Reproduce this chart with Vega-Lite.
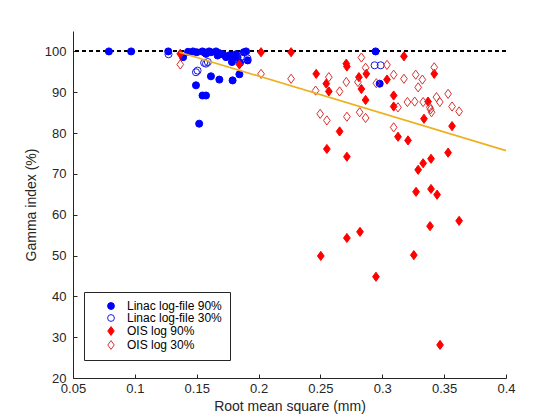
{
  "$schema": "https://vega.github.io/schema/vega-lite/v6.json",
  "autosize": {"type": "none"},
  "padding": {"left": 73, "top": 31, "right": 54, "bottom": 42},
  "width": 433,
  "height": 347,
  "background": "white",
  "datasets": {
    "fit": [
      {"rms": 0.136, "gamma": 99.8},
      {"rms": 0.4, "gamma": 75.7}
    ]
  },
  "data": {
    "values": [
      {"series": "Linac log-file 90%", "rms": 0.079, "gamma": 100},
      {"series": "Linac log-file 90%", "rms": 0.097, "gamma": 100},
      {"series": "Linac log-file 90%", "rms": 0.127, "gamma": 100},
      {"series": "Linac log-file 90%", "rms": 0.139, "gamma": 98.6},
      {"series": "Linac log-file 90%", "rms": 0.143, "gamma": 99.9},
      {"series": "Linac log-file 90%", "rms": 0.147, "gamma": 100},
      {"series": "Linac log-file 90%", "rms": 0.150, "gamma": 99.8},
      {"series": "Linac log-file 90%", "rms": 0.1545, "gamma": 100},
      {"series": "Linac log-file 90%", "rms": 0.156, "gamma": 99.8},
      {"series": "Linac log-file 90%", "rms": 0.1575, "gamma": 99.4},
      {"series": "Linac log-file 90%", "rms": 0.160, "gamma": 100},
      {"series": "Linac log-file 90%", "rms": 0.1615, "gamma": 99.8},
      {"series": "Linac log-file 90%", "rms": 0.1656, "gamma": 100},
      {"series": "Linac log-file 90%", "rms": 0.1669, "gamma": 99.0},
      {"series": "Linac log-file 90%", "rms": 0.168, "gamma": 99.6},
      {"series": "Linac log-file 90%", "rms": 0.171, "gamma": 99.3},
      {"series": "Linac log-file 90%", "rms": 0.1737, "gamma": 98.6},
      {"series": "Linac log-file 90%", "rms": 0.176, "gamma": 99.0},
      {"series": "Linac log-file 90%", "rms": 0.179, "gamma": 99.0},
      {"series": "Linac log-file 90%", "rms": 0.1785, "gamma": 97.4},
      {"series": "Linac log-file 90%", "rms": 0.1818, "gamma": 99.3},
      {"series": "Linac log-file 90%", "rms": 0.183, "gamma": 98.5},
      {"series": "Linac log-file 90%", "rms": 0.188, "gamma": 99.8},
      {"series": "Linac log-file 90%", "rms": 0.1899, "gamma": 100},
      {"series": "Linac log-file 90%", "rms": 0.1912, "gamma": 97.8},
      {"series": "Linac log-file 90%", "rms": 0.185, "gamma": 97.2},
      {"series": "Linac log-file 90%", "rms": 0.1845, "gamma": 94.4},
      {"series": "Linac log-file 90%", "rms": 0.179, "gamma": 92.9},
      {"series": "Linac log-file 90%", "rms": 0.1683, "gamma": 93.1},
      {"series": "Linac log-file 90%", "rms": 0.1615, "gamma": 93.9},
      {"series": "Linac log-file 90%", "rms": 0.1494, "gamma": 91.7},
      {"series": "Linac log-file 90%", "rms": 0.1547, "gamma": 89.2},
      {"series": "Linac log-file 90%", "rms": 0.1575, "gamma": 89.2},
      {"series": "Linac log-file 90%", "rms": 0.152, "gamma": 82.3},
      {"series": "Linac log-file 90%", "rms": 0.2946, "gamma": 100},
      {"series": "Linac log-file 90%", "rms": 0.2979, "gamma": 92.1},
      {"series": "Linac log-file 30%", "rms": 0.1272, "gamma": 99.3},
      {"series": "Linac log-file 30%", "rms": 0.1507, "gamma": 95.3},
      {"series": "Linac log-file 30%", "rms": 0.1494, "gamma": 94.9},
      {"series": "Linac log-file 30%", "rms": 0.156, "gamma": 97.2},
      {"series": "Linac log-file 30%", "rms": 0.1575, "gamma": 97.0},
      {"series": "Linac log-file 30%", "rms": 0.159, "gamma": 97.4},
      {"series": "Linac log-file 30%", "rms": 0.191, "gamma": 98.3},
      {"series": "Linac log-file 30%", "rms": 0.187, "gamma": 98.8},
      {"series": "Linac log-file 30%", "rms": 0.2938, "gamma": 96.6},
      {"series": "Linac log-file 30%", "rms": 0.2987, "gamma": 96.6},
      {"series": "OIS log 90%", "rms": 0.1367, "gamma": 99.4},
      {"series": "OIS log 90%", "rms": 0.1845, "gamma": 96.8},
      {"series": "OIS log 90%", "rms": 0.202, "gamma": 99.8},
      {"series": "OIS log 90%", "rms": 0.2263, "gamma": 99.8},
      {"series": "OIS log 90%", "rms": 0.2466, "gamma": 94.5},
      {"series": "OIS log 90%", "rms": 0.2547, "gamma": 92.1},
      {"series": "OIS log 90%", "rms": 0.2568, "gamma": 90.2},
      {"series": "OIS log 90%", "rms": 0.2709, "gamma": 97.0},
      {"series": "OIS log 90%", "rms": 0.2714, "gamma": 96.3},
      {"series": "OIS log 90%", "rms": 0.2811, "gamma": 93.7},
      {"series": "OIS log 90%", "rms": 0.2871, "gamma": 94.5},
      {"series": "OIS log 90%", "rms": 0.2831, "gamma": 90.8},
      {"series": "OIS log 90%", "rms": 0.2865, "gamma": 88.1},
      {"series": "OIS log 90%", "rms": 0.2655, "gamma": 80.4},
      {"series": "OIS log 90%", "rms": 0.2552, "gamma": 76.1},
      {"series": "OIS log 90%", "rms": 0.2714, "gamma": 74.2},
      {"series": "OIS log 90%", "rms": 0.3175, "gamma": 98.8},
      {"series": "OIS log 90%", "rms": 0.342, "gamma": 94.5},
      {"series": "OIS log 90%", "rms": 0.3038, "gamma": 93.1},
      {"series": "OIS log 90%", "rms": 0.3092, "gamma": 89.2},
      {"series": "OIS log 90%", "rms": 0.3092, "gamma": 86.5},
      {"series": "OIS log 90%", "rms": 0.337, "gamma": 87.7},
      {"series": "OIS log 90%", "rms": 0.3337, "gamma": 83.5},
      {"series": "OIS log 90%", "rms": 0.3564, "gamma": 81.7},
      {"series": "OIS log 90%", "rms": 0.3127, "gamma": 79.1},
      {"series": "OIS log 90%", "rms": 0.3208, "gamma": 78.2},
      {"series": "OIS log 90%", "rms": 0.3532, "gamma": 75.2},
      {"series": "OIS log 90%", "rms": 0.3394, "gamma": 73.7},
      {"series": "OIS log 90%", "rms": 0.333, "gamma": 72.6},
      {"series": "OIS log 90%", "rms": 0.329, "gamma": 71.0},
      {"series": "OIS log 90%", "rms": 0.3273, "gamma": 65.6},
      {"series": "OIS log 90%", "rms": 0.3394, "gamma": 66.3},
      {"series": "OIS log 90%", "rms": 0.3443, "gamma": 64.9},
      {"series": "OIS log 90%", "rms": 0.3621, "gamma": 58.5},
      {"series": "OIS log 90%", "rms": 0.3386, "gamma": 57.2},
      {"series": "OIS log 90%", "rms": 0.282, "gamma": 55.8},
      {"series": "OIS log 90%", "rms": 0.2714, "gamma": 54.3},
      {"series": "OIS log 90%", "rms": 0.2503, "gamma": 49.9},
      {"series": "OIS log 90%", "rms": 0.3255, "gamma": 50.1},
      {"series": "OIS log 90%", "rms": 0.2949, "gamma": 44.8},
      {"series": "OIS log 90%", "rms": 0.3467, "gamma": 28.1},
      {"series": "OIS log 30%", "rms": 0.1367, "gamma": 96.8},
      {"series": "OIS log 30%", "rms": 0.202, "gamma": 94.5},
      {"series": "OIS log 30%", "rms": 0.2263, "gamma": 93.3},
      {"series": "OIS log 30%", "rms": 0.2568, "gamma": 93.7},
      {"series": "OIS log 30%", "rms": 0.2709, "gamma": 92.5},
      {"series": "OIS log 30%", "rms": 0.2655, "gamma": 90.2},
      {"series": "OIS log 30%", "rms": 0.2461, "gamma": 90.4},
      {"series": "OIS log 30%", "rms": 0.2831, "gamma": 98.5},
      {"series": "OIS log 30%", "rms": 0.2865, "gamma": 96.0},
      {"series": "OIS log 30%", "rms": 0.2803, "gamma": 92.5},
      {"series": "OIS log 30%", "rms": 0.2498, "gamma": 84.7},
      {"series": "OIS log 30%", "rms": 0.2552, "gamma": 83.1},
      {"series": "OIS log 30%", "rms": 0.2714, "gamma": 84.0},
      {"series": "OIS log 30%", "rms": 0.2817, "gamma": 85.1},
      {"series": "OIS log 30%", "rms": 0.2865, "gamma": 83.7},
      {"series": "OIS log 30%", "rms": 0.3038, "gamma": 96.7},
      {"series": "OIS log 30%", "rms": 0.2952, "gamma": 92.2},
      {"series": "OIS log 30%", "rms": 0.3092, "gamma": 94.3},
      {"series": "OIS log 30%", "rms": 0.3175, "gamma": 93.3},
      {"series": "OIS log 30%", "rms": 0.327, "gamma": 94.3},
      {"series": "OIS log 30%", "rms": 0.3324, "gamma": 93.1},
      {"series": "OIS log 30%", "rms": 0.329, "gamma": 91.2},
      {"series": "OIS log 30%", "rms": 0.342, "gamma": 96.1},
      {"series": "OIS log 30%", "rms": 0.3127, "gamma": 86.3},
      {"series": "OIS log 30%", "rms": 0.3203, "gamma": 87.6},
      {"series": "OIS log 30%", "rms": 0.3262, "gamma": 87.7},
      {"series": "OIS log 30%", "rms": 0.333, "gamma": 87.6},
      {"series": "OIS log 30%", "rms": 0.3384, "gamma": 86.3},
      {"series": "OIS log 30%", "rms": 0.3398, "gamma": 85.1},
      {"series": "OIS log 30%", "rms": 0.339, "gamma": 85.8},
      {"series": "OIS log 30%", "rms": 0.3438, "gamma": 88.8},
      {"series": "OIS log 30%", "rms": 0.3465, "gamma": 87.6},
      {"series": "OIS log 30%", "rms": 0.3532, "gamma": 89.6},
      {"series": "OIS log 30%", "rms": 0.3564, "gamma": 86.5},
      {"series": "OIS log 30%", "rms": 0.3621, "gamma": 85.3},
      {"series": "OIS log 30%", "rms": 0.3092, "gamma": 81.4}
    ]
  },
  "encoding": {
    "x": {
      "field": "rms",
      "type": "quantitative",
      "scale": {"domain": [0.05, 0.4], "nice": false, "zero": false},
      "axis": {
        "title": "Root mean square (mm)",
        "values": [0.05, 0.1, 0.15, 0.2, 0.25, 0.3, 0.35, 0.4],
        "format": "~g",
        "labelPadding": 8,
        "titlePadding": 4
      }
    },
    "y": {
      "field": "gamma",
      "type": "quantitative",
      "scale": {"domain": [20, 105], "nice": false, "zero": false},
      "axis": {
        "title": "Gamma index (%)",
        "values": [20, 30, 40, 50, 60, 70, 80, 90, 100],
        "labelPadding": 11,
        "titlePadding": 6
      }
    }
  },
  "layer": [
    {
      "mark": {"type": "rule", "color": "black", "strokeDash": [4, 3], "strokeWidth": 1},
      "encoding": {"y": {"datum": 100}, "x": null}
    },
    {
      "mark": {"type": "point", "opacity": 1, "strokeWidth": 1, "size": 50},
      "encoding": {
        "fill": {
          "field": "series",
          "type": "nominal",
          "scale": {
            "domain": ["Linac log-file 90%", "Linac log-file 30%", "OIS log 90%", "OIS log 30%"],
            "range": ["#0000ff", "transparent", "#ff0000", "transparent"]
          },
          "legend": {"title": null}
        },
        "stroke": {
          "field": "series",
          "type": "nominal",
          "scale": {
            "domain": ["Linac log-file 90%", "Linac log-file 30%", "OIS log 90%", "OIS log 30%"],
            "range": ["#0000ff", "#1a1ae6", "#ff0000", "#d93030"]
          },
          "legend": {"title": null}
        },
        "shape": {
          "field": "series",
          "type": "nominal",
          "scale": {
            "domain": ["Linac log-file 90%", "Linac log-file 30%", "OIS log 90%", "OIS log 30%"],
            "range": ["circle", "circle", "M0,-1.3L0.95,0L0,1.3L-0.95,0Z", "M0,-1.3L0.95,0L0,1.3L-0.95,0Z"]
          },
          "legend": {"title": null}
        }
      }
    },
    {
      "data": {"name": "fit"},
      "mark": {"type": "line", "color": "#edb120", "strokeWidth": 1.6},
      "encoding": {}
    }
  ],
  "config": {
    "view": {"stroke": null},
    "font": "Liberation Sans",
    "axis": {
      "grid": false,
      "domainColor": "#262626",
      "tickColor": "#262626",
      "tickSize": -4,
      "labelColor": "#262626",
      "labelFontSize": 13,
      "labelFont": "Liberation Sans",
      "labelFlush": false,
      "labelOverlap": false,
      "titleColor": "#262626",
      "titleFontSize": 14,
      "titleFont": "Liberation Sans",
      "titleFontWeight": "normal"
    },
    "legend": {
      "orient": "none",
      "legendX": 11,
      "legendY": 261,
      "direction": "vertical",
      "strokeColor": "#262626",
      "fillColor": "white",
      "padding": 8,
      "symbolOffset": 13,
      "labelOffset": 10,
      "symbolSize": 46,
      "symbolStrokeWidth": 1,
      "labelFontSize": 12,
      "labelFont": "Liberation Sans",
      "labelColor": "black",
      "rowPadding": 0
    }
  }
}
